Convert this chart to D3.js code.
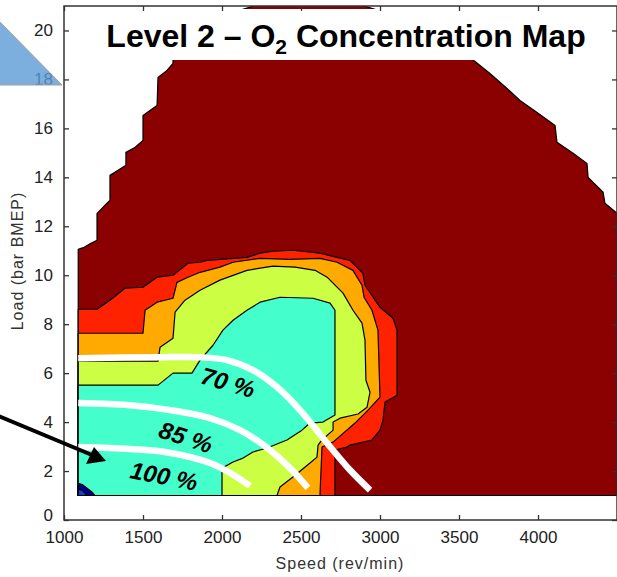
<!DOCTYPE html>
<html><head><meta charset="utf-8">
<script src="https://cdn.jsdelivr.net/npm/d3@7"></script>
<style>body{margin:0;background:#fff;} svg{display:block;}</style>
</head><body>
<svg id="chart" width="617" height="577"></svg>
<script>
// ---------- data ----------
const speedTicks = [1000, 1500, 2000, 2500, 3000, 3500, 4000];
const loadTicks  = [0, 2, 4, 6, 8, 10, 12, 14, 16, 18, 20];

// contour region boundaries [speed rev/min, load bar BMEP]
const level1 = [[1090,1],[1090,11.06],[1127,11.14],[1171,11.31],[1209,11.43],[1209,12.53],[1228,12.65],[1272,12.94],[1291,13.06],[1291,14.08],[1342,14.29],[1392,14.49],[1392,15.02],[1449,15.22],[1500,15.51],[1500,16.53],[1544,16.73],[1589,16.94],[1595,18.08],[1652,18.37],[1690,18.65],[1690,19.3],[1760,20.0],[1900,20.5],[2050,20.7],[2250,21.1],[2850,21.1],[3100,20.6],[3350,19.9],[3560,18.95],[3633,18.57],[3696,18.24],[3804,17.63],[3886,17.14],[3994,16.65],[4108,16.12],[4120,15.43],[4222,14.98],[4310,14.57],[4317,14.0],[4412,13.39],[4424,12.94],[4500,12.53],[4500,1]];
const level2 = [[1090,1],[1090,8.61],[1209,8.61],[1291,8.98],[1386,9.47],[1500,9.51],[1589,9.92],[1690,10.0],[1785,10.49],[1861,10.53],[1905,10.61],[2158,10.73],[2241,10.9],[2323,10.98],[2449,11.02],[2620,10.9],[2728,10.73],[2810,10.61],[2892,10.08],[2905,9.59],[3000,8.69],[3082,8.24],[3108,7.76],[3108,5.10],[3032,4.82],[3019,4.08],[3000,3.67],[2949,3.27],[2810,3.06],[2791,2.98],[2715,2.86],[2715,1]];
const level3 = [[1090,1],[1090,7.63],[1500,7.63],[1513,8.57],[1589,8.9],[1690,9.06],[1715,9.71],[1785,9.92],[1861,10.12],[1987,10.33],[2070,10.53],[2241,10.69],[2430,10.65],[2620,10.69],[2728,10.53],[2829,10.2],[2886,9.59],[2899,9.1],[2949,8.57],[2987,7.76],[3000,5.02],[2924,4.49],[2842,3.96],[2703,3.18],[2633,2.98],[2620,1]];
const level4 = [[1090,1],[1090,6.49],[1595,6.49],[1608,7.06],[1690,7.43],[1703,8.49],[1766,8.98],[1861,9.39],[1987,9.8],[2158,10.2],[2323,10.37],[2462,10.33],[2589,10.2],[2665,9.92],[2766,9.27],[2829,8.57],[2886,8.04],[2905,7.35],[2911,5.71],[2937,5.22],[2918,4.61],[2861,4.33],[2747,4.16],[2703,4.0],[2703,3.67],[2633,3.27],[2608,3.06],[2601,2.57],[2557,2.33],[2449,1.76],[2367,1.35],[2348,1]];
const level5 = [[1090,1],[1090,5.51],[1595,5.51],[1690,6.0],[1810,6.0],[1861,6.53],[1943,7.14],[2006,7.76],[2070,8.16],[2158,8.57],[2241,8.9],[2367,9.1],[2576,9.06],[2684,8.86],[2715,8.57],[2715,4.29],[2639,4.0],[2557,3.96],[2506,3.67],[2411,3.27],[2285,2.94],[2196,2.78],[2133,2.53],[2070,2.37],[2000,2.12],[2000,1]];
const level6 = [[1090,1],[1090,1.5],[1115,1.45],[1150,1.28],[1180,1.12],[1196,1]];
const level7 = [[1090,1],[1090,1.28],[1120,1.2],[1145,1]];
const levels = [level1, level2, level3, level4, level5, level6, level7];
const levelFill = ["#8b0000", "#ff2200", "#ffaa00", "#ccff44", "#44ffcc", "#000090", "#1040d0"];

// annotation curves (constant O2 share)
const line70  = [[1090,6.61],[1608,6.65],[1861,6.65],[2032,6.53],[2196,6.12],[2348,5.43],[2494,4.49],[2665,3.14],[2810,2.04],[2937,1.22]];
const line85  = [[1090,4.78],[1418,4.69],[1671,4.49],[1924,4.16],[2114,3.67],[2272,3.02],[2418,2.2],[2544,1.31]];
const line100 = [[1090,2.98],[1418,2.9],[1639,2.78],[1924,2.33],[2063,1.88],[2177,1.39]];
const curveNames  = ["70 %", "85 %", "100 %"];
const labelSpeed  = [2038, 1772, 1633];
const labelLoad   = [5.63, 3.39, 1.80];
const labelAngle  = [16, 18, 11];

// ---------- drawing ----------
const svg = d3.select("#chart");
const m = {left: 64, right: 617, top: 6, bottom: 520};
const x = d3.scaleLinear().domain([1000, 4500]).range([m.left, m.right]);
const y = d3.scaleLinear().domain([0, 21]).range([m.bottom, m.top]);
const FONT = "Liberation Sans, Arial, sans-serif";

svg.append("defs").append("clipPath").attr("id", "plotclip")
  .append("rect").attr("x", m.left).attr("y", m.top)
  .attr("width", m.right - m.left).attr("height", m.bottom - m.top);

const poly = d3.line().x(d => x(d[0])).y(d => y(d[1]));
const gData = svg.append("g").attr("clip-path", "url(#plotclip)");

levels.forEach((lv, i) => {
  gData.append("path").attr("d", poly(lv) + "Z")
    .attr("fill", levelFill[i]).attr("stroke", "#000").attr("stroke-width", 1.2)
    .attr("stroke-linejoin", "round");
});

const smooth = d3.line().x(d => x(d[0])).y(d => y(d[1])).curve(d3.curveCatmullRom.alpha(0.5));
[line70, line85, line100].forEach(l => {
  gData.append("path").attr("d", smooth(l)).attr("fill", "none")
    .attr("stroke", "#fff").attr("stroke-width", 6.5).attr("stroke-linecap", "butt");
});

curveNames.forEach((t, i) => {
  svg.append("text")
    .attr("transform", `translate(${x(labelSpeed[i])},${y(labelLoad[i])}) rotate(${labelAngle[i]})`)
    .attr("text-anchor", "middle").attr("dy", "0.36em")
    .attr("font-family", FONT).attr("font-weight", "bold").attr("font-style", "italic")
    .attr("font-size", 24).attr("fill", "#000").text(t);
});

// title box
svg.append("rect").attr("x", 98).attr("y", 9).attr("width", 510).attr("height", 51).attr("fill", "#fff");
const title = svg.append("text").attr("x", 346).attr("y", 47).attr("text-anchor", "middle")
  .attr("font-family", FONT).attr("font-weight", "bold").attr("font-size", 32).attr("fill", "#000");
title.append("tspan").text("Level 2 \u2013 O");
title.append("tspan").attr("font-size", 21).attr("dy", 7).text("2");
title.append("tspan").attr("dy", -7).text(" Concentration Map");

// frame + ticks
const axisColor = "#333";
svg.append("rect").attr("x", m.left).attr("y", m.top).attr("width", m.right - m.left)
  .attr("height", m.bottom - m.top).attr("fill", "none").attr("stroke", axisColor).attr("stroke-width", 1.5);
const tickLen = 5;
const gx = svg.append("g").attr("transform", `translate(0,${m.bottom})`)
  .call(d3.axisBottom(x).tickValues(speedTicks).tickSize(-tickLen).tickPadding(11).tickFormat(d3.format("d")));
const gxt = svg.append("g").attr("transform", `translate(0,${m.top})`)
  .call(d3.axisTop(x).tickValues(speedTicks).tickSize(-tickLen).tickFormat(""));
const gy = svg.append("g").attr("transform", `translate(${m.left},0)`)
  .call(d3.axisLeft(y).tickValues(loadTicks).tickSize(-tickLen).tickPadding(11));
const gyr = svg.append("g").attr("transform", `translate(${m.right},0)`)
  .call(d3.axisRight(y).tickValues(loadTicks).tickSize(-tickLen).tickFormat(""));
[gx, gxt, gy, gyr].forEach(g => {
  g.select(".domain").remove();
  g.selectAll(".tick line").attr("stroke", axisColor).attr("stroke-width", 1.3);
  g.selectAll(".tick text").attr("font-family", FONT)
    .attr("font-size", 17).attr("fill", "#222");
});
// keep the "0" load label clear of the "1000" speed label
gy.selectAll(".tick text").filter(d => d === 0).attr("dy", "0.05em");

// axis titles
svg.append("text").attr("x", 340).attr("y", 569).attr("text-anchor", "middle")
  .attr("font-family", FONT).attr("font-size", 16)
  .attr("letter-spacing", 1).attr("fill", "#333").text("Speed (rev/min)");
svg.append("text").attr("transform", "translate(23,261) rotate(-90)").attr("text-anchor", "middle")
  .attr("font-family", FONT).attr("font-size", 16)
  .attr("letter-spacing", 1).attr("fill", "#333").text("Load (bar BMEP)");

// decorations: slide triangle and arrow
svg.append("path").attr("d", "M-2,20 L62,85 L-2,85 Z")
  .attr("fill", "#5b9bd5").attr("fill-opacity", 0.8).attr("stroke", "#a0a0a0").attr("stroke-width", 1);
svg.append("line").attr("x1", -4).attr("y1", 415).attr("x2", 92).attr("y2", 455)
  .attr("stroke", "#000").attr("stroke-width", 4);
svg.append("path").attr("d", "M106,461 L86,464 L94,447 Z").attr("fill", "#000");
</script>
</body></html>
